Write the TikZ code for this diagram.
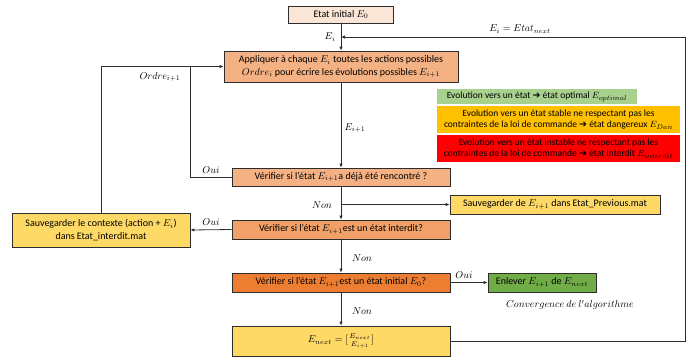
\documentclass[tikz,border=0pt]{standalone}
\usepackage{amsmath}
\usepackage{fontspec}
\setmainfont{Carlito}
\newfontfamily\arrowfont{DejaVu Sans}
\usepackage{tikz}
\usetikzlibrary{arrows.meta,positioning}
\definecolor{lineg}{RGB}{45,45,45}
\definecolor{peachlight}{RGB}{251,229,214}
\definecolor{peach}{RGB}{244,177,131}
\definecolor{peachdark}{RGB}{241,160,103}
\definecolor{orangebox}{RGB}{237,125,49}
\definecolor{yellowbox}{RGB}{255,217,102}
\definecolor{greenbox}{RGB}{112,173,71}
\definecolor{greenlight}{RGB}{169,209,142}
\definecolor{amber}{RGB}{255,192,0}
\definecolor{redbox}{RGB}{255,0,0}
\newcommand{\darr}{{\arrowfont\char"2794}}

\begin{document}
\begin{tikzpicture}[x=1pt, y=-1pt,
    stepbox/.style={rectangle, draw=lineg, line width=0.8pt, align=center, inner sep=1pt,
        font=\fontsize{10}{12.5}\selectfont},
    legend/.style={rectangle, align=center, inner sep=1pt, font=\fontsize{9.5}{11.5}\selectfont},
    lbl/.style={font=\fontsize{9.6}{11}\selectfont},
    flow/.style={-{Latex[length=4pt,width=3.5pt]}, line width=0.8pt, draw=lineg},
    link/.style={line width=0.8pt, draw=lineg}
]
    \useasboundingbox (0,0) rectangle (691,357);

    % boxes of the algorithm
    \node[stepbox, fill=peachlight, minimum width=105pt, minimum height=17pt] (init) at (341,14.5) {Etat initial $E_0$};
    \node[stepbox, fill=peach, minimum width=234pt, minimum height=31pt] (apply) at (341,66.5)
        {Appliquer à chaque $E_i$ toutes les actions possibles\\ $Ordre_i$ pour écrire les évolutions possibles $E_{i+1}$};
    \node[stepbox, fill=peach, minimum width=218pt, minimum height=18pt] (check1) at (341,177)
        {Vérifier si l'état $E_{i+1}$a déjà été rencontré ?};
    \node[stepbox, fill=peachdark, minimum width=218pt, minimum height=19pt] (check2) at (341,229.5)
        {Vérifier si l'état $E_{i+1}$est un état interdit?};
    \node[stepbox, fill=orangebox, minimum width=218pt, minimum height=19pt] (check3) at (341,282.5)
        {Vérifier si l'état $E_{i+1}$est un état initial $E_0$?};
    \node[stepbox, fill=yellowbox, minimum width=218pt, minimum height=30pt] (enext) at (341,341)
        {$E_{next}=[\genfrac{}{}{0pt}{1}{E_{next}}{E_{i+1}}]$};
    \node[stepbox, fill=yellowbox, minimum width=210pt, minimum height=19pt] (prev) at (555,204.5)
        {Sauvegarder de $E_{i+1}$ dans Etat\_Previous.mat};
    \node[stepbox, fill=yellowbox, minimum width=178pt, minimum height=34pt] (ctx) at (101,230)
        {Sauvegarder le contexte (action + $E_i$)\\ dans Etat\_interdit.mat};
    \node[stepbox, fill=greenbox, minimum width=108pt, minimum height=19pt] (remove) at (542,282.5)
        {Enlever $E_{i+1}$ de $E_{next}$};

    % legend
    \node[legend, fill=greenlight, minimum width=200pt, minimum height=15pt] (lgood) at (537,96.5)
        {Evolution vers un état \darr\ état optimal $E_{optimal}$};
    \node[legend, fill=amber, minimum width=243pt, minimum height=27pt] (ldanger) at (558.5,119.5)
        {Evolution vers un état stable ne respectant pas les\\ contraintes de la loi de commande \darr\ état dangereux $E_{Dan}$};
    \node[legend, fill=redbox, minimum width=243pt, minimum height=27pt] (lbad) at (558.5,148.5)
        {Evolution vers un état instable ne respectant pas les\\ contraintes de la loi de commande \darr\ état interdit $E_{interdit}$};

    % corner points
    \coordinate (fb) at (341,37);
    \coordinate (fbR) at (685,37);
    \coordinate (j1) at (190,66.5);
    \coordinate (b1) at (341,204.5);

    % connectors
    \draw[flow] (init) -- (apply);
    \draw[flow] (enext.east) -| (fbR) -- (fb);
    \draw[flow] (apply) -- (check1);
    \draw[link] (check1.west) -| (j1);
    \draw[flow] (ctx.north) |- (apply.west);
    \draw[flow] (check1) -- (check2);
    \draw[flow] (b1) -- (prev.west);
    \draw[flow] (check2.west) -- (ctx.east);
    \draw[flow] (check2) -- (check3);
    \draw[flow] (check3.east) -- (remove.west);
    \draw[flow] (check3) -- (enext);

    % labels
    \node[lbl] (lEi) at (330,37) {$E_i$};
    \node[lbl] (lfb) at (520,29) {$E_i=Etat_{next}$};
    \node[lbl] (lEi1) at (355,128) {$E_{i+1}$};
    \node[lbl] (lord) at (160,77) {$Ordre_{i+1}$};
    \node[lbl] (loui1) at (211,170) {$Oui$};
    \node[lbl] (lnon1) at (322,205) {$Non$};
    \node[lbl] (loui2) at (211,222) {$Oui$};
    \node[lbl] (lnon2) at (362,258) {$Non$};
    \node[lbl] (loui3) at (464,275) {$Oui$};
    \node[lbl] (lnon3) at (362,311) {$Non$};
    \node[lbl] (lconv) at (570,305) {$Convergence\ de\ l'algorithme$};
\end{tikzpicture}
\end{document}
